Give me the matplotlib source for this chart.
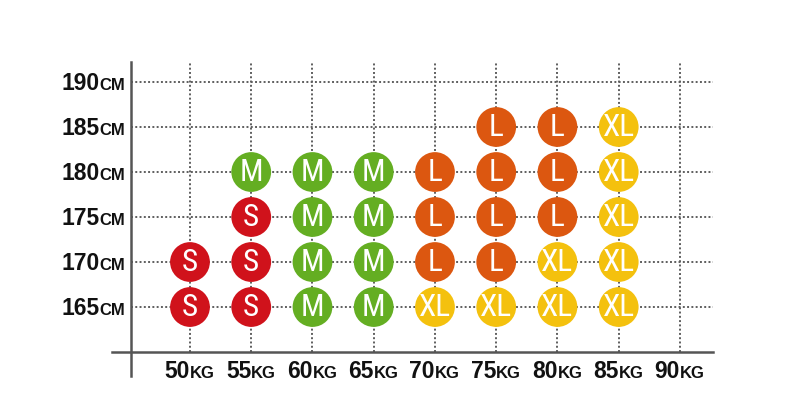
import matplotlib
matplotlib.use("Agg")
from matplotlib import pyplot as plt

# size chart data
weights = [50, 55, 60, 65, 70, 75, 80, 85, 90]
heights = [165, 170, 175, 180, 185, 190]

pt_weight = [50, 55, 60, 65, 70, 75, 80, 85,
             50, 55, 60, 65, 70, 75, 80, 85,
             55, 60, 65, 70, 75, 80, 85,
             55, 60, 65, 70, 75, 80, 85,
             75, 80, 85]
pt_height = [165] * 8 + [170] * 8 + [175] * 7 + [180] * 7 + [185] * 3
pt_size = ["S", "S", "M", "M", "XL", "XL", "XL", "XL",
           "S", "S", "M", "M", "L", "L", "XL", "XL",
           "S", "M", "M", "L", "L", "L", "XL",
           "M", "M", "M", "L", "L", "L", "XL",
           "L", "L", "XL"]

SIZE_COLORS = {"S": "#d0121b", "M": "#64ae22", "L": "#dc5710", "XL": "#f4c10e"}
LETTER_FONTS = ["Roboto Condensed", "Open Sans Condensed", "Liberation Sans Narrow",
                "Open Sans", "DejaVu Sans"]

# axis extents (data units)
X_AXIS_LEFT, X_AXIS_RIGHT = 43.6, 92.7
Y_AXIS_BOTTOM, Y_AXIS_TOP = 157.3, 192.2
GRID_LEFT = 45.2
BASE_H = 160
YLABEL_SPLIT = 42.6
XLABEL_BASE = 157.1

fig = plt.figure(figsize=(8, 4), dpi=100)
ax = fig.add_axes([0, 0, 1, 1])
ax.set_xlim(34.49, 99.80)
ax.set_ylim(154.67, 199.11)
ax.axis("off")

grid_kw = dict(color="#5e5e5e", lw=1.4, linestyle=(0, (1, 1.2)), zorder=1)
for h in heights:
    ax.plot([GRID_LEFT, X_AXIS_RIGHT], [h, h], **grid_kw)
for w in weights:
    ax.plot([w, w], [BASE_H, Y_AXIS_TOP], **grid_kw)

ax.plot([X_AXIS_LEFT, X_AXIS_RIGHT], [BASE_H, BASE_H], color="#555555", lw=1.8, zorder=2)
ax.plot([GRID_LEFT, GRID_LEFT], [Y_AXIS_BOTTOM, Y_AXIS_TOP], color="#555555", lw=1.8, zorder=2)

ax.scatter(pt_weight, pt_height, s=820, c=[SIZE_COLORS[s] for s in pt_size],
           edgecolors="none", zorder=3)
for w, h, s in zip(pt_weight, pt_height, pt_size):
    ax.text(w, h - 0.1, s, color="white", fontsize=22.5, ha="center", va="center",
            family=LETTER_FONTS, zorder=4)

# tick labels: big bold number + small caps unit
lbl_kw = dict(fontweight="bold", family="Liberation Sans", va="baseline", color="#111111")
for h in heights:
    ax.text(YLABEL_SPLIT, h - 0.9, str(h), fontsize=16.5, ha="right", **lbl_kw)
    ax.text(YLABEL_SPLIT, h - 0.9, "CM", fontsize=12, ha="left", **lbl_kw)

for w in weights:
    ax.text(w, XLABEL_BASE, str(w), fontsize=16.5, ha="right", **lbl_kw)
    ax.text(w, XLABEL_BASE, "KG", fontsize=12, ha="left", **lbl_kw)

fig.savefig("out.png", dpi=100)
